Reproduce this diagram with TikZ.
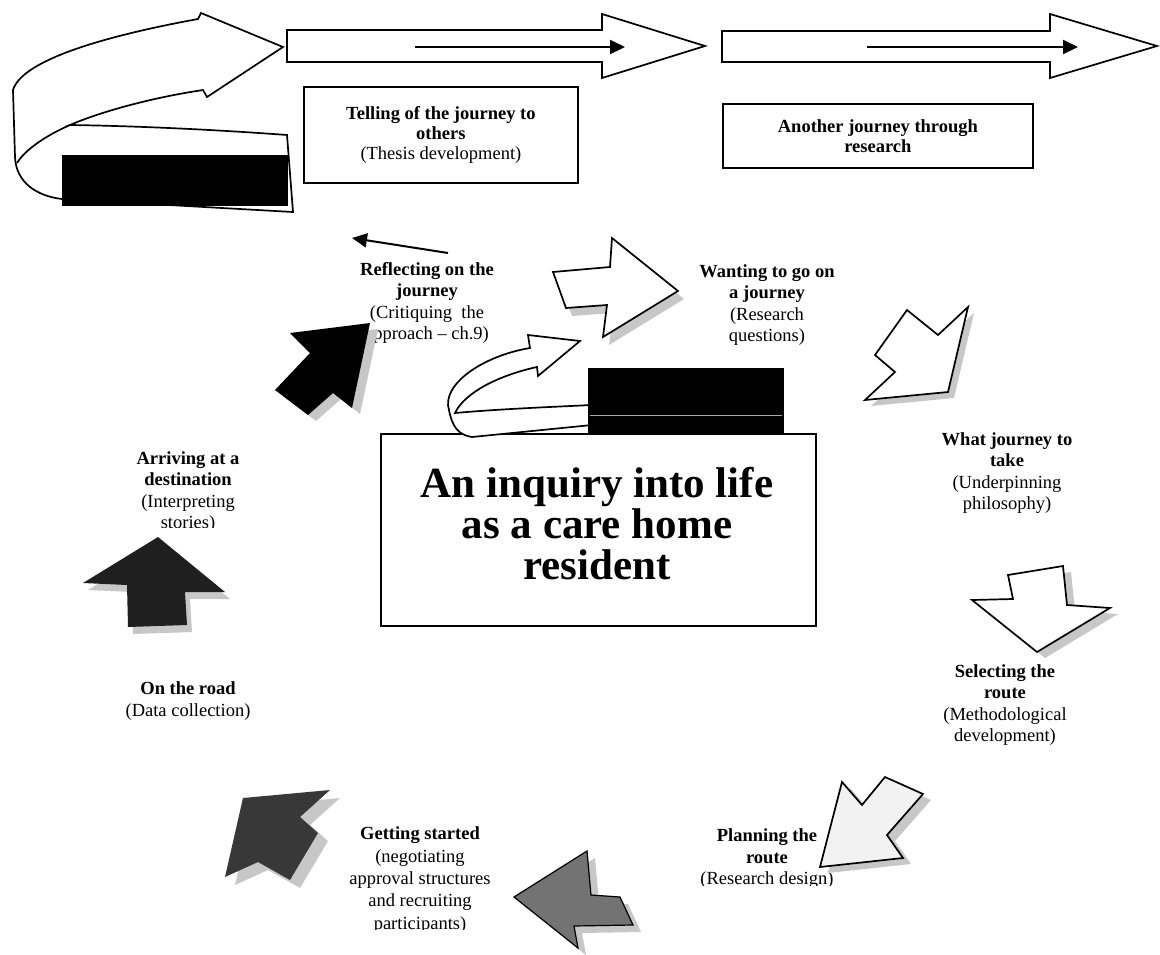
\documentclass[tikz,border=0pt]{standalone}
\usepackage{fontspec}
\setmainfont{Liberation Serif}
\usetikzlibrary{arrows.meta}
% block arrow with a soft drop shadow: #1 style, #2 shadow offset, #3 outline points
\newcommand\castarrow[3]{%
  \fill[shadowfill,shift={#2}] #3 -- cycle;
  \path[#1] #3 -- cycle;}
\begin{document}
\begin{tikzpicture}[x=1pt,y=-1pt,
  outline/.style={draw=black,line width=1.7pt,line join=miter},
  whitearrow/.style={outline,fill=white},
  shadowfill/.style={fill=black!22,draw=none},
  label/.style={align=center,font=\fontsize{18.5}{21.5}\selectfont,inner sep=0pt},
  pointer/.style={line width=2pt,-{Triangle[length=15pt,width=14pt]}},
  textbox/.style={draw=black,line width=1.8pt,fill=white,align=center,
                  font=\fontsize{18.5}{20}\selectfont,anchor=north west},
  solidblock/.style={fill=black}
]
\useasboundingbox (0,0) rectangle (1160,954);
\fill[white] (0,0) rectangle (1160,954);

% ---- top row: twisted ribbon and two block arrows ----
\filldraw[outline,fill=white] (198,19)
  .. controls (105,36) and (22,60) .. (13,90) -- (15,157)
  .. controls (16,182) and (36,196) .. (62,199) -- (293,212) -- (287,135)
  .. controls (220,130) and (140,126) .. (70,125)
  .. controls (100,112) and (150,98) .. (203,90)
  -- (207,97) -- (283,47) -- (201,13) -- cycle;
\draw[outline] (70,125) .. controls (45,136) and (25,150) .. (17,163);
\fill[solidblock] (62,155) rectangle (288,206);

\filldraw[outline,fill=white] (287,30) -- (602,30) -- (602,14) -- (705,46)
  -- (602,78) -- (602,62) -- (287,62) -- cycle;
\coordinate (a1s) at (415,47);
\coordinate (a1e) at (625,47);
\draw[pointer] (a1s) -- (a1e);

\filldraw[outline,fill=white] (722,31) -- (1050,31) -- (1050,14) -- (1157,46)
  -- (1050,78) -- (1050,62) -- (722,62) -- cycle;
\coordinate (a2s) at (867,47);
\coordinate (a2e) at (1078,47);
\draw[pointer] (a2s) -- (a2e);

\node[textbox,minimum width=274pt,minimum height=96pt] (telling) at (303,86)
  {\textbf{Telling of the journey to}\\\textbf{others}\\(Thesis development)};
\node[textbox,minimum width=310pt,minimum height=64pt] (another) at (722,103)
  {\textbf{Another journey through}\\\textbf{research}};

% ---- centre: title box with curled arrow ----
\node[draw=black,line width=1.8pt,fill=white,minimum width=435pt,minimum height=192pt,
      anchor=north west] (mainbox) at (380,433) {};
\filldraw[outline,fill=white] (530,348)
  .. controls (482,356) and (441,385) .. (449,410)
  .. controls (452,426) and (458,435) .. (472,437) -- (592,425) -- (592,405)
  .. controls (550,407) and (500,409) .. (455,413)
  .. controls (465,392) and (500,375) .. (537,367)
  -- (538,376) -- (580,341) -- (528,335) -- cycle;
\fill[solidblock] (588,368) rectangle (784,433);
\draw[black!35,line width=0.7pt] (590,415) -- (782,415);
\node[align=center,inner sep=0pt,font=\fontsize{43}{41}\selectfont\bfseries]
  (title) at (597,524) {An inquiry into life\\as a care home\\resident};

% ---- stage labels ----
\node[label] (reflect) at (427,303)
  {\textbf{Reflecting on the}\\\textbf{journey}\\(Critiquing\ \ the\\approach -- ch.9)};
\node[label] (wanting) at (767,305)
  {\textbf{Wanting to go on}\\\textbf{a journey}\\(Research\\questions)};
\node[label] (whatjourney) at (1007,473)
  {\textbf{What journey to}\\\textbf{take}\\(Underpinning\\philosophy)};
\node[label] (selecting) at (1005,705)
  {\textbf{Selecting the}\\\textbf{route}\\(Methodological\\development)};
\begin{scope}
  \clip (600,800) rectangle (900,885);
  \node[label] (planning) at (767,859)
    {\textbf{Planning the}\\\textbf{route}\\(Research design)};
\end{scope}
\begin{scope}
  \clip (300,800) rectangle (560,929);
  \node[label,font=\fontsize{18.5}{22.3}\selectfont] (started) at (420,880)
    {\textbf{Getting started}\\(negotiating\\approval structures\\and recruiting\\participants)};
\end{scope}
\begin{scope}
  \clip (80,430) rectangle (300,527);
  \node[label] (arriving) at (188,492)
    {\textbf{Arriving at a}\\\textbf{destination}\\(Interpreting\\stories)};
\end{scope}
\node[label] (road) at (188,701)
  {\textbf{On the road}\\(Data collection)};

% ---- the cycle of block arrows ----
\coordinate (r1) at (448,253);
\coordinate (r2) at (352,238);
\draw[pointer] (r1) -- (r2);

\castarrow{whitearrow}{(6,8)}{(553,272) -- (610,267) -- (612,238) -- (678,291)
  -- (603,337) -- (607,305) -- (566,308)}
\castarrow{whitearrow}{(6,6)}{(907,310) -- (938,335) -- (968,307) -- (948,392)
  -- (865,400) -- (895,372) -- (875,355)}
\castarrow{whitearrow}{(8,6)}{(1008,575) -- (1063,566) -- (1067,605) -- (1110,608)
  -- (1037,652) -- (972,600) -- (1013,599)}
\castarrow{outline,fill=black!5}{(8,6)}{(842,782) -- (862,805) -- (885,777) -- (923,794)
  -- (887,835) -- (903,858) -- (820,867)}
\castarrow{outline,line width=1.2pt,fill=black!55}{(8,7)}{(514,897) -- (587,851)
  -- (591,895) -- (620,897) -- (633,925) -- (574,926) -- (578,948)}
\castarrow{fill=black!78}{(10,8)}{(243,798) -- (330,790) -- (300,817) -- (318,833)
  -- (290,880) -- (258,862) -- (225,877)}
\castarrow{fill=black!88}{(5,7)}{(158,537) -- (225,592) -- (185,592) -- (187,625)
  -- (128,627) -- (127,585) -- (83,583)}
\castarrow{fill=black}{(8,6)}{(370,323) -- (352,408) -- (333,393) -- (308,415)
  -- (275,390) -- (310,353) -- (290,333)}
\end{tikzpicture}
\end{document}
